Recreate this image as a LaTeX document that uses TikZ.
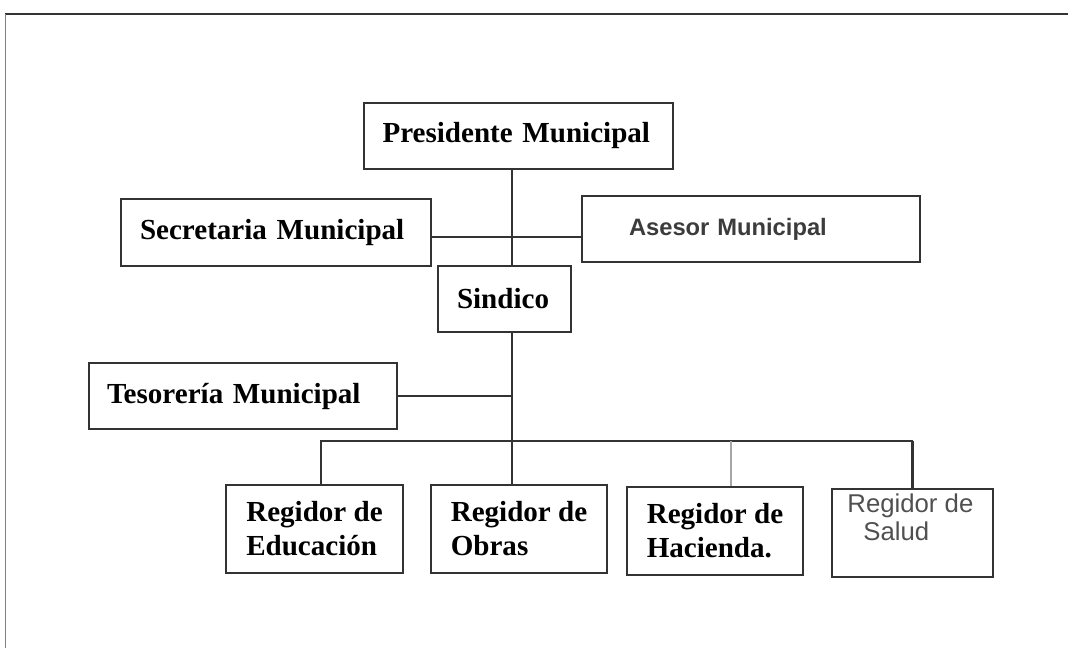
\documentclass[tikz,border=0pt]{standalone}
\usepackage{fontspec}
\setmainfont{Liberation Serif}
\setsansfont{Liberation Sans}
\definecolor{boxline}{HTML}{333333}
\definecolor{asesorgray}{HTML}{3C3C3C}
\definecolor{saludgray}{HTML}{505050}

\begin{document}
\begin{tikzpicture}[x = 0.75pt, y = -0.75pt,
  cargo/.style = {draw = boxline, line width = 1.2pt, fill = white, inner sep = 0pt, align = left, font = \fontsize{21.8}{25.5}\selectfont\bfseries},
  regidor/.style = {cargo, minimum height = 66pt},
  linea/.style = {draw = boxline, line width = 1.1pt}]

\useasboundingbox (0, 0) rectangle (1068, 648);
\draw[boxline, line width = 1.5pt] (5, 14) -- (1068, 14);
\draw[gray, line width = 0.6pt] (5, 14) -- (5, 648);

\node[cargo, minimum width = 231.75pt, minimum height = 49.5pt, text width = 204pt] (pres) at (518.5, 136) {Presidente~Municipal};
\node[cargo, minimum width = 232.5pt, minimum height = 50.25pt, text width = 204pt] (secr) at (276, 232.5) {Secretaria~Municipal};
\node[cargo, minimum width = 253.5pt, minimum height = 49.5pt, text width = 183pt, text = asesorgray, font = \sffamily\bfseries\fontsize{17.8}{20}\selectfont] (asesor) at (751, 229) {Asesor~Municipal};
\node[cargo, minimum width = 99.75pt, minimum height = 49.5pt, text width = 71.25pt] (sindico) at (504.5, 299) {Sindico};
\node[cargo, minimum width = 231pt, minimum height = 49.5pt, text width = 204pt] (teso) at (243, 396) {Tesorería~Municipal};

\node[regidor, minimum width = 132.75pt] (educ) at (314.5, 529) {Regidor de\\Educación};
\node[regidor, minimum width = 132pt] (obras) at (519, 529) {Regidor de\\Obras};
\node[regidor, minimum width = 132pt] (hac) at (715, 531) {Regidor de\\Hacienda.};
\node[regidor, minimum width = 120.75pt] (salud) at (912.5, 533) {};
\node[anchor = north west, inner sep = 0pt, align = left, text = saludgray, font = \sffamily\fontsize{19.3}{21}\selectfont] (saludtxt) at ([xshift = 12pt, yshift = -4pt]salud.north west) {Regidor de\\\hspace{12pt}Salud};

\coordinate (spine) at (512, 0);
\coordinate (bus) at (0, 441);
\draw[linea] (pres.south -| spine) -- (sindico.north -| spine);
\draw[linea] ([yshift = -3.4pt]secr.east) -- ([yshift = -3.4pt]secr.east -| asesor.west);
\draw[linea] (sindico.south -| spine) -- (obras.north -| spine);
\draw[linea] (teso.east) -- (teso.east -| spine);
\draw[linea] ([xshift = 4.9pt]educ.north) |- (bus -| salud.north);
\draw[linea, line width = 1.8pt] (bus -| salud.north) -- (salud.north);
\draw[linea, draw = gray!70] ([xshift = 12pt]hac.north) -- ([xshift = 12pt]hac.north |- bus);
\end{tikzpicture}
\end{document}
